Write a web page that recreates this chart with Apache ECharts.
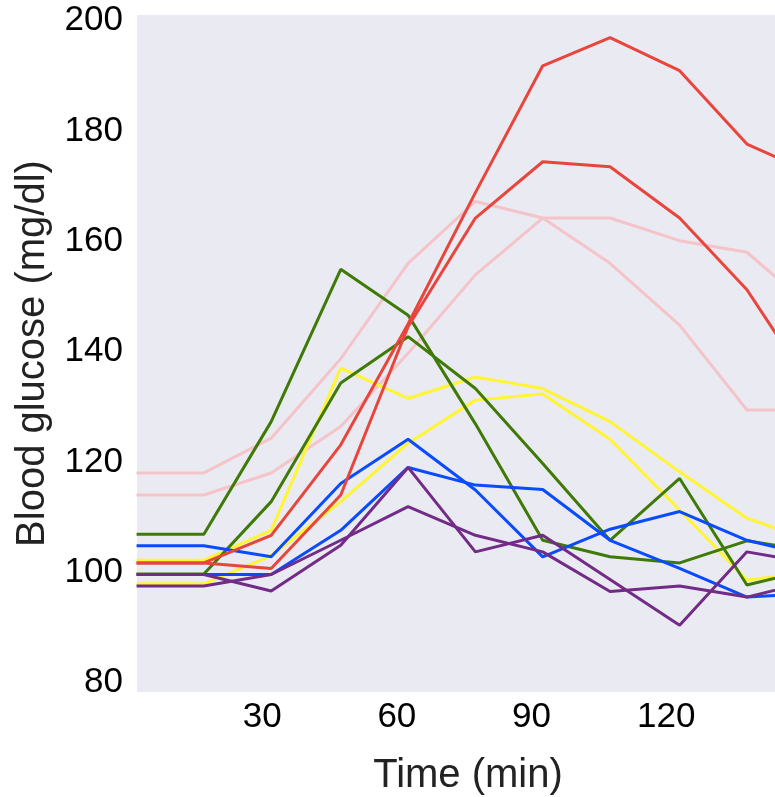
<!DOCTYPE html>
<html>
<head>
<meta charset="utf-8">
<script src="https://cdn.jsdelivr.net/npm/echarts@6/dist/echarts.min.js"></script>
<style>
  html, body { margin: 0; padding: 0; background: #fff; }
  #chart { width: 775px; height: 797px; }
</style>
</head>
<body>
<div id="chart"></div>
<script>
// sample times (min)
var times = [2, 17, 32, 47.5, 62.5, 77.5, 92.5, 107.5, 123, 138, 153];

// blood glucose (mg/dl), two curves per colour
var pinkA   = [118.0, 118.0, 124.3, 138.7, 156.0, 167.2, 164.2, 164.2, 160.1, 158.0, 147.5];
var pinkB   = [114.0, 114.0, 118.0, 126.4, 139.7, 153.9, 164.2, 156.0, 144.8, 129.4, 129.4];
var yellowA = [102.2, 102.2, 107.6, 137.0, 131.5, 135.4, 133.3, 127.3, 118.2, 109.8, 105.5];
var yellowB = [97.9, 97.9, 103.0, 112.8, 123.4, 131.2, 132.3, 124.1, 111.3, 98.6, 100.0];
var greenA  = [106.9, 106.9, 127.3, 154.9, 146.6, 126.9, 105.8, 102.8, 101.7, 105.7, 103.8];
var greenB  = [99.7, 99.7, 112.8, 134.3, 142.7, 133.3, 119.7, 105.8, 117.0, 97.7, 100.6];
var blueA   = [104.8, 104.8, 102.8, 116.1, 124.1, 114.9, 102.8, 107.8, 111.0, 105.8, 102.9];
var blueB   = [99.6, 99.6, 99.6, 107.6, 119.0, 115.8, 115.0, 105.8, 100.7, 95.5, 96.2];
var redA    = [101.7, 101.7, 106.7, 123.1, 145.0, 168.8, 191.8, 196.9, 190.9, 177.6, 172.2];
var redB    = [101.7, 101.7, 100.7, 114.0, 144.5, 164.2, 174.4, 173.5, 164.2, 151.2, 132.7];
var purpleA = [99.6, 99.6, 96.6, 104.9, 119.0, 103.7, 106.7, 98.7, 90.4, 103.7, 101.6];
var purpleB = [97.5, 97.5, 99.6, 105.8, 111.9, 106.7, 103.7, 96.5, 97.5, 95.5, 98.5];

var xTicks = [30, 60, 90, 120];
var yTicks = [80, 100, 120, 140, 160, 180, 200];

var font = 'Liberation Sans, Arial, sans-serif';

function pairs(vals) {
    var out = [];
    for (var i = 0; i < vals.length; i++) {
        out.push([times[i], vals[i]]);
    }
    return out;
}

function line(vals, color) {
    return {
        type: 'line',
        data: pairs(vals),
        symbol: 'none',
        clip: true,
        lineStyle: { color: color, width: 3 },
        itemStyle: { color: color }
    };
}

var myChart = echarts.init(document.getElementById('chart'));

myChart.setOption({
    animation: false,
    grid: {
        left: 137,
        right: -24,
        top: 15,
        bottom: 105,
        show: true,
        backgroundColor: '#eaeaf2',
        borderWidth: 0,
        outerBoundsMode: 'none'
    },
    xAxis: {
        type: 'value',
        min: 2.1,
        max: 149.6,
        name: 'Time (min)',
        nameLocation: 'middle',
        nameGap: 64,
        nameTextStyle: { fontFamily: font, fontSize: 40, color: '#222' },
        axisLine: { show: false },
        axisTick: { show: false },
        splitLine: { show: false },
        axisLabel: {
            customValues: xTicks,
            fontFamily: font,
            fontSize: 35,
            color: '#000',
            margin: 8
        }
    },
    yAxis: {
        type: 'value',
        min: 78.3,
        max: 201,
        name: 'Blood glucose (mg/dl)',
        nameLocation: 'middle',
        nameGap: 84,
        nameTextStyle: { fontFamily: font, fontSize: 40, color: '#222' },
        axisLine: { show: false },
        axisTick: { show: false },
        splitLine: { show: false },
        axisLabel: {
            customValues: yTicks,
            fontFamily: font,
            fontSize: 35,
            color: '#000',
            margin: 14
        }
    },
    series: [
        line(pinkA, '#f4c4c9'),
        line(pinkB, '#f4c4c9'),
        line(yellowA, '#fff533'),
        line(yellowB, '#fff533'),
        line(greenA, '#3e7a05'),
        line(greenB, '#3e7a05'),
        line(blueA, '#0a4bff'),
        line(blueB, '#0a4bff'),
        line(redA, '#e8453c'),
        line(redB, '#e8453c'),
        line(purpleA, '#722b86'),
        line(purpleB, '#722b86')
    ]
});
</script>
</body>
</html>
